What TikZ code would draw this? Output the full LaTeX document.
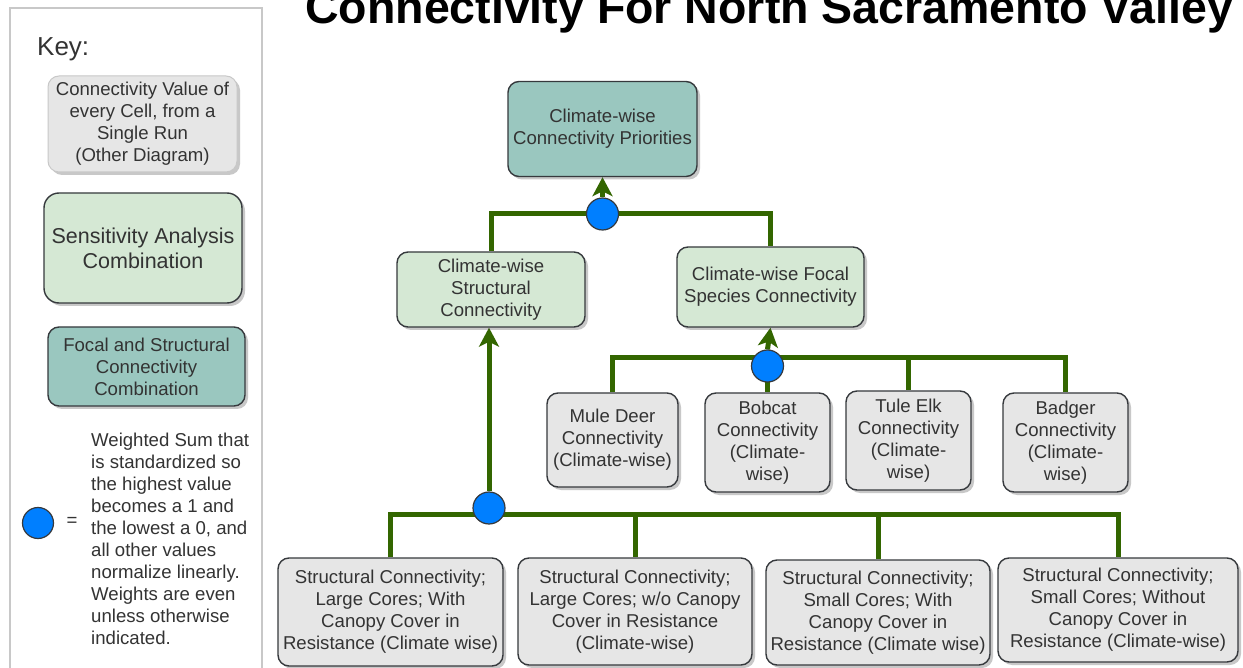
\documentclass[tikz,border=0pt]{standalone}
\usepackage{fontspec}
\setmainfont{Liberation Sans}
\usetikzlibrary{arrows.meta,shadows,positioning}
\definecolor{grayfill}{HTML}{E6E6E6}
\definecolor{greenfill}{HTML}{D5E8D4}
\definecolor{tealfill}{HTML}{9AC7BF}
\definecolor{edge}{HTML}{36393D}
\definecolor{conncol}{HTML}{336600}
\definecolor{bluefill}{HTML}{007FFF}
\definecolor{txt}{HTML}{333333}
\definecolor{keyedge}{HTML}{C8C8C8}
\pgfdeclarelayer{bg}
\pgfdeclarelayer{paper}
\pgfsetlayers{paper,bg,main}
\tikzset{
  box/.style={rectangle, rounded corners=11pt, draw=edge, line width=1.4pt, align=center,
    inner sep=0pt, text=txt, font=\fontsize{18.6}{22}\selectfont,
    drop shadow={shadow xshift=3pt, shadow yshift=-3pt, opacity=0.3, fill=black!70}},
  graybox/.style={box, fill=grayfill},
  greenbox/.style={box, fill=greenfill},
  tealbox/.style={box, fill=tealfill},
  wsum/.style={circle, draw=edge, line width=1.2pt, fill=bluefill, minimum size=32pt, inner sep=0pt},
  conn/.style={draw=conncol, line width=5pt},
  arr/.style={conn, -{Stealth[width=20pt,length=19pt,inset=5pt]}},
}
\begin{document}
\begin{tikzpicture}[x=1pt,y=1pt]
\clip (0,0) rectangle (1243,-668);
\begin{pgfonlayer}{paper}
\fill[white] (0,0) rectangle (1243,-668);
\end{pgfonlayer}

% title
\node[anchor=base west, inner sep=0pt, font=\fontsize{46.5}{50}\selectfont\bfseries] (title) at (305,-24) {Connectivity For North Sacramento Valley};

% key panel
\draw[keyedge, line width=1.5pt] (10,-8) rectangle (262,-690);
\node[anchor=base west, inner sep=0pt, text=txt, font=\fontsize{26}{30}\selectfont] (keylbl) at (37,-56) {Key:};
\node[graybox, draw=keyedge, line width=1pt, minimum width=189pt, minimum height=96pt] (k1) at (142.5,-124) {Connectivity Value of\\every Cell, from a\\Single Run\\(Other Diagram)};
\node[greenbox, rounded corners=15pt, minimum width=198pt, minimum height=110pt, font=\fontsize{21.5}{25}\selectfont] (k2) at (143,-248) {Sensitivity Analysis\\Combination};
\node[tealbox, minimum width=197pt, minimum height=79pt] (k3) at (146.5,-366.5) {Focal and Structural\\Connectivity\\Combination};
\node[wsum, minimum size=31pt] (kc) at (38,-523) {};
\node[text=txt, font=\fontsize{18.6}{22}\selectfont, inner sep=0pt] (keq) at (72,-522) {=};
\node[anchor=west, align=left, inner sep=0pt, text=txt, font=\fontsize{18.6}{22}\selectfont] (ktext) at (91,-539) {Weighted Sum that\\is standardized so\\the highest value\\becomes a 1 and\\the lowest a 0, and\\all other values\\normalize linearly.\\Weights are even\\unless otherwise\\indicated.};

% main boxes
\node[tealbox, minimum width=189pt, minimum height=95pt] (top) at (602.5,-129) {Climate-wise\\Connectivity Priorities};
\node[greenbox, minimum width=188pt, minimum height=75pt] (s1) at (491,-289.5) {Climate-wise\\Structural\\Connectivity};
\node[greenbox, minimum width=187pt, minimum height=80pt] (f1) at (770.5,-287) {Climate-wise Focal\\Species Connectivity};

\node[graybox, minimum width=131pt, minimum height=94pt] (md) at (612.5,-440) {Mule Deer\\Connectivity\\(Climate-wise)};
\node[graybox, minimum width=125pt, minimum height=99pt] (bob) at (767.5,-442.5) {Bobcat\\Connectivity\\(Climate-\\wise)};
\node[graybox, minimum width=125pt, minimum height=99pt] (te) at (908.5,-440.5) {Tule Elk\\Connectivity\\(Climate-\\wise)};
\node[graybox, minimum width=125pt, minimum height=99pt] (bdg) at (1065.5,-442.5) {Badger\\Connectivity\\(Climate-\\wise)};

\node[graybox, minimum width=225pt, minimum height=108pt] (b1) at (390.5,-612) {Structural Connectivity;\\Large Cores; With\\Canopy Cover in\\Resistance (Climate wise)};
\node[graybox, minimum width=234pt, minimum height=107pt] (b2) at (635,-611.5) {Structural Connectivity;\\Large Cores; w/o Canopy\\Cover in Resistance\\(Climate-wise)};
\node[graybox, minimum width=224pt, minimum height=105pt] (b3) at (878,-612.5) {Structural Connectivity;\\Small Cores; With\\Canopy Cover in\\Resistance (Climate wise)};
\node[graybox, minimum width=240pt, minimum height=104pt] (b4) at (1118,-610) {Structural Connectivity;\\Small Cores; Without\\Canopy Cover in\\Resistance (Climate-wise)};

% weighted-sum circles
\node[wsum] (c1) at (602.5,-214) {};
\node[wsum, minimum size=32pt] (c2) at (767.5,-366) {};
\node[wsum, minimum size=32pt] (c3) at (489,-508) {};
\coordinate (h2) at (767.5,-358);
\coordinate (h3) at (489,-514);

% connectors
\begin{pgfonlayer}{bg}
\draw[conn] (s1.north) |- (c1) -| (f1.north);
\draw[arr] (c1.north) -- (top.south);

\draw[conn] (md.north) |- (h2) -| (bdg.north);
\draw[conn] (h2) -| (te.north);
\draw[conn] (h2) -- (bob.north);
\draw[arr] (c2.north) -- (f1.south);

\draw[conn] (b1.north) |- (h3) -| (b4.north);
\draw[conn] (h3) -| (b2.north);
\draw[conn] (h3) -| (b3.north);
\draw[arr] (c3.north) -- (c3.north |- s1.south);
\end{pgfonlayer}
\end{tikzpicture}
\end{document}
